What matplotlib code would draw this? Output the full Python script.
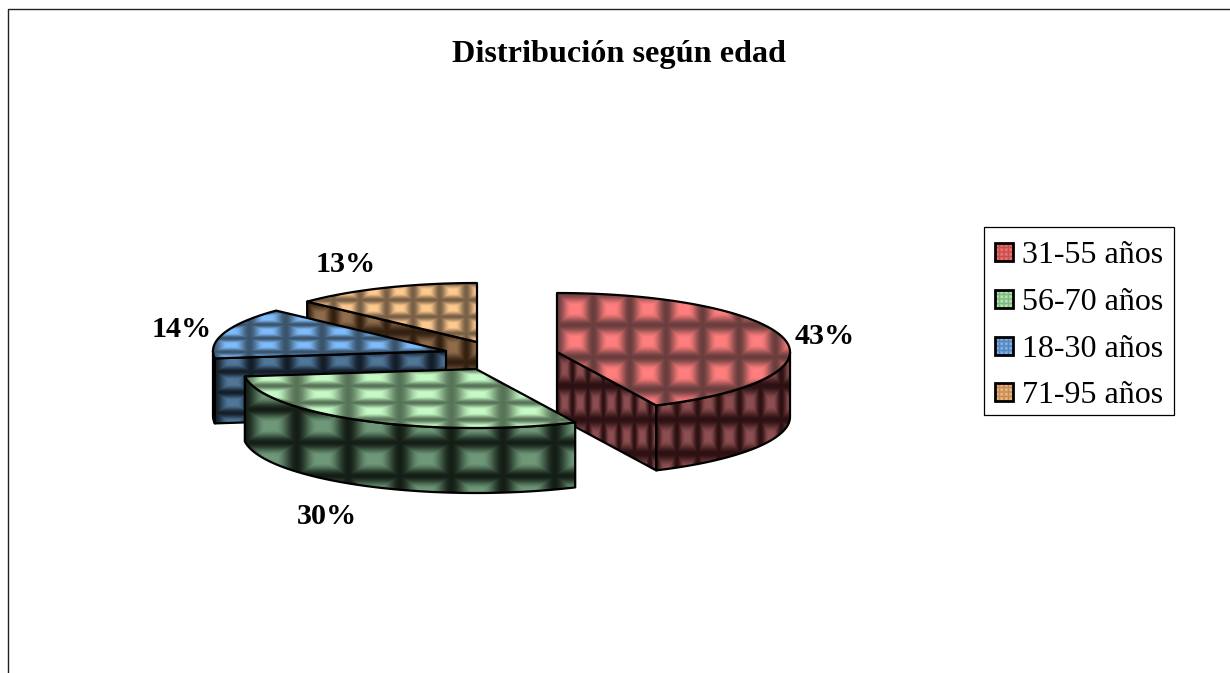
import numpy as np
import matplotlib
matplotlib.use("Agg")
import matplotlib.pyplot as plt
from matplotlib.patches import Polygon, Rectangle

plt.rcParams['font.family'] = ['Liberation Serif', 'DejaVu Serif']

# data
age_groups = ["31-55 años", "56-70 años", "18-30 años", "71-95 años"]
shares = [43, 30, 14, 13]

# layout, in pixels
W, H = 1230, 673
RX, RY, DEPTH = 233, 59, 65
centers = [(557, 352), (476, 369), (446, 351), (477, 342)]
label_pos = [(825, 344), (327, 524), (182, 337), (346, 272)]
draw_order = [3, 2, 0, 1]

# bright / dark tile colours for top and side faces
top_hi = ["#ff7e7e", "#c6fac6", "#7fbcfb", "#ffca8e"]
top_lo = ["#6a3e3e", "#587458", "#3a546c", "#786046"]
side_hi = ["#8c4e50", "#6e9878", "#507698", "#906c4c"]
side_lo = ["#2c1012", "#141e16", "#141e2a", "#322010"]
swatch_hi = ["#f27070", "#b4eab0", "#80b4ea", "#f0b880"]
swatch_lo = ["#c25050", "#84b484", "#5484ba", "#c28c58"]


def rgb(c):
    return np.array(matplotlib.colors.to_rgb(c))


def tiles(w, h, tw, th, hi, lo):
    # bevelled tile pattern, one bright square per tile fading to dark edges
    w, h = int(np.ceil(w)), int(np.ceil(h))
    xx, yy = np.meshgrid((np.arange(w) + 0.5) / tw, (np.arange(h) + 0.5) / th)
    u = np.abs((xx % 1) * 2 - 1)
    v = np.abs((yy % 1) * 2 - 1)
    s = np.clip((1 - np.maximum(u, v)) / 0.8, 0, 1)
    s = s * s * (3 - 2 * s)
    return rgb(lo) + (rgb(hi) - rgb(lo)) * s[:, :, None]


def fill_face(ax, pts, hi, lo):
    pts = np.array(pts)
    x0, y0 = pts.min(axis=0)
    x1, y1 = pts.max(axis=0)
    w, h = max(x1 - x0, 1), max(y1 - y0, 1)
    img = tiles(w, h, w / 6.4, h / 3.5, hi, lo)
    im = ax.imshow(img, extent=(x0, x0 + img.shape[1], y0 + img.shape[0], y0),
                   aspect='auto', interpolation='bilinear', zorder=2)
    outline = Polygon(pts, closed=True, facecolor='none', edgecolor='black',
                      linewidth=1.6, joinstyle='round', zorder=2)
    ax.add_patch(outline)
    im.set_clip_path(outline)


def arc(cx, cy, a0, a1, dy=0):
    t = np.radians(np.linspace(a0, a1, 120))
    return np.column_stack([cx + RX * np.sin(t), cy - RY * np.cos(t) + dy])


fig = plt.figure(figsize=(W / 100, H / 100), dpi=100)
ax = fig.add_axes([0, 0, 1, 1])

edges = np.concatenate([[0], np.cumsum(shares)]) / sum(shares) * 360

for i in draw_order:
    cx, cy = centers[i]
    a0, a1 = edges[i], edges[i + 1]
    apex = np.array([[cx, cy]])

    # cut faces that look toward the viewer
    for ang, show in [(a0, np.sin(np.radians(a0)) < -1e-6),
                      (a1, np.sin(np.radians(a1)) > 1e-6)]:
        if show:
            p = arc(cx, cy, ang, ang)[:1]
            face = np.vstack([apex, p, p + [0, DEPTH], apex + [0, DEPTH]])
            fill_face(ax, face, side_hi[i], side_lo[i])

    # outer rim, only the front half of the ellipse is visible
    r0, r1 = max(a0, 90), min(a1, 270)
    if r1 > r0:
        rim = np.vstack([arc(cx, cy, r0, r1), arc(cx, cy, r1, r0, DEPTH)])
        fill_face(ax, rim, side_hi[i], side_lo[i])

    fill_face(ax, np.vstack([apex, arc(cx, cy, a0, a1)]), top_hi[i], top_lo[i])

for i, (x, y) in enumerate(label_pos):
    ax.text(x, y, f"{shares[i]}%", ha='center', va='baseline',
            fontsize=21.7, fontweight='bold', color='black', zorder=5)

ax.text(619.5, 62, "Distribución según edad", ha='center', va='baseline',
        fontsize=23.2, fontweight='bold', color='black', zorder=5)

# legend
ax.add_patch(Rectangle((984, 227), 190, 188, facecolor='white',
                       edgecolor='black', linewidth=0.9, zorder=3))
legend_y = [252, 299, 346, 392]
for i, y in enumerate(legend_y):
    ax.imshow(tiles(18, 18, 4.5, 4.5, swatch_hi[i], swatch_lo[i]),
              extent=(995, 1013, y + 9, y - 9), aspect='auto',
              interpolation='bilinear', zorder=4)
    ax.add_patch(Rectangle((995, y - 9), 18, 18, facecolor='none',
                           edgecolor='black', linewidth=2.0, zorder=4))
    ax.text(1022, y + 11, age_groups[i], ha='left', va='baseline',
            fontsize=23, color='black', zorder=5)

# chart area border, open on the right and at the bottom
ax.plot([7.5, 7.5, W], [H, 9, 9], color='#222222', linewidth=1.0, zorder=1,
        solid_joinstyle='miter')

ax.set_xlim(0, W)
ax.set_ylim(H, 0)
ax.axis('off')
fig.savefig("out.png", dpi=100, facecolor='white')
